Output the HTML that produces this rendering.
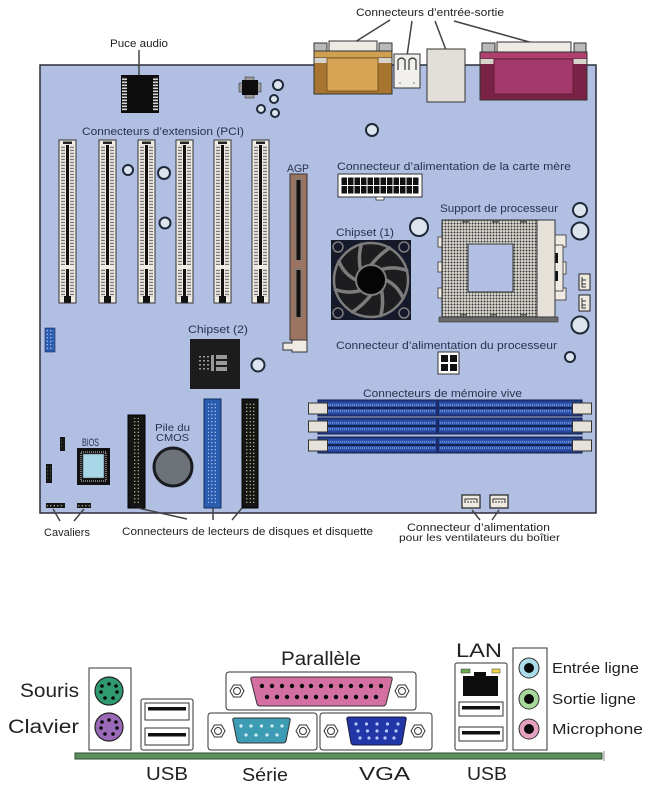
<!DOCTYPE html>
<html><head><meta charset="utf-8"><style>
html,body{margin:0;padding:0;background:#fff;}
svg{display:block;}
</style></head><body>
<svg width="648" height="788" viewBox="0 0 648 788" xmlns="http://www.w3.org/2000/svg" font-family="Liberation Sans, sans-serif">
<defs>
<pattern id="pinp" patternUnits="userSpaceOnUse" width="4" height="3"><rect x="0" y="0.8" width="4" height="1.3" fill="#7a7a7a"/></pattern>
<pattern id="chipp" patternUnits="userSpaceOnUse" width="6" height="3"><rect width="6" height="3" fill="#111"/><rect x="0" y="0.5" width="6" height="1.6" fill="#d8d8d8"/></pattern>
<pattern id="ided" patternUnits="userSpaceOnUse" width="3.5" height="3.5"><circle cx="1.75" cy="1.75" r="0.65" fill="#e6dfa8"/></pattern>
<pattern id="ideb" patternUnits="userSpaceOnUse" width="3.5" height="3.5"><circle cx="1.75" cy="1.75" r="0.65" fill="#cfe0ff"/></pattern>
<pattern id="sockp" patternUnits="userSpaceOnUse" width="3" height="3"><rect width="3" height="3" fill="#dcd9d2"/><circle cx="1.5" cy="1.5" r="0.95" fill="#333"/></pattern>
<pattern id="atxp" patternUnits="userSpaceOnUse" x="341" y="177" width="6.5" height="8.5"><rect x="0.5" y="0.5" width="5.5" height="7.5" fill="#111"/></pattern>
<g id="pci">
<rect x="0" y="0" width="17" height="163" fill="#efebe3" stroke="#333" stroke-width="1"/>
<rect x="2" y="5" width="4" height="152" fill="url(#pinp)"/>
<rect x="11" y="5" width="4" height="152" fill="url(#pinp)"/>
<rect x="7" y="5" width="3" height="152" fill="#111"/>
<rect x="1" y="125" width="15" height="4" fill="#efebe3"/>
<rect x="4" y="1.5" width="9" height="2.5" fill="#222"/>
<rect x="5" y="156" width="7" height="6.5" fill="#111"/>
</g>
<g id="dimm">
<rect x="10" y="0" width="264" height="16" fill="#22408f" stroke="#141c4a" stroke-width="1"/>
<rect x="13" y="2.5" width="258" height="11" fill="#2e55ad"/>
<line x1="16" y1="5" x2="268" y2="5" stroke="#a9bdf0" stroke-width="1" stroke-dasharray="1 1"/>
<line x1="16" y1="11" x2="268" y2="11" stroke="#a9bdf0" stroke-width="1" stroke-dasharray="1 1"/>
<line x1="16" y1="8" x2="268" y2="8" stroke="#0c1230" stroke-width="1.6"/>
<rect x="128" y="1" width="3" height="14" fill="#1a2a6a"/>
<rect x="0.5" y="3" width="19" height="11" fill="#e6e2da" stroke="#333"/>
<rect x="264.5" y="3" width="19" height="11" fill="#e6e2da" stroke="#333"/>
</g>
</defs>

<!-- Board -->
<rect x="40" y="65" width="556" height="448" fill="#b1bfe2" stroke="#2a2d3a" stroke-width="1.5"/>

<!-- top labels and lines -->
<g stroke="#444" stroke-width="1.5" fill="none">
<line x1="390" y1="20" x2="355" y2="42"/>
<line x1="412" y1="21" x2="407" y2="56"/>
<line x1="435" y1="21" x2="446" y2="50"/>
<line x1="454" y1="21" x2="533" y2="43"/>
<line x1="139" y1="50" x2="139" y2="76"/>
</g>
<text x="356" y="16" font-size="11" fill="#222" textLength="148" lengthAdjust="spacingAndGlyphs">Connecteurs d’entrée-sortie</text>
<text x="110" y="47" font-size="11" fill="#222" textLength="58" lengthAdjust="spacingAndGlyphs">Puce audio</text>

<!-- tan connector -->
<rect x="314" y="43" width="13" height="8" fill="#b9b9b9" stroke="#333"/>
<rect x="379" y="43" width="13" height="8" fill="#b9b9b9" stroke="#333"/>
<rect x="329" y="41" width="48" height="10" fill="#eeeae4" stroke="#333"/>
<rect x="314" y="51" width="78" height="43" fill="#a7752f" stroke="#333"/>
<rect x="314" y="51" width="78" height="7" fill="#cf9f52" stroke="#333"/>
<rect x="314.5" y="58" width="13" height="5" fill="#d8d4cc"/>
<rect x="378.5" y="58" width="13" height="5" fill="#d8d4cc"/>
<rect x="327" y="58" width="51" height="33" fill="#d5a455" stroke="#6a4a1a" stroke-width="0.8"/>
<!-- small usb -->
<rect x="394" y="54" width="26" height="34" fill="#f2f0ec" stroke="#333"/>
<path d="M398,70 V60 Q401.5,56 405,60 V70 M409,70 V60 Q412.5,56 416,60 V70" fill="none" stroke="#333" stroke-width="1.2"/>
<circle cx="400" cy="83" r="0.8" fill="#777"/><circle cx="414" cy="83" r="0.8" fill="#777"/>
<!-- grey box -->
<rect x="427" y="49" width="38" height="53" fill="#e2dfd8" stroke="#333"/>
<!-- magenta connector -->
<rect x="482" y="43" width="13" height="9" fill="#b9b9b9" stroke="#333"/>
<rect x="574" y="43" width="12" height="9" fill="#b9b9b9" stroke="#333"/>
<rect x="497" y="42" width="74" height="10" fill="#eeeae4" stroke="#333"/>
<rect x="480" y="52" width="107" height="48" fill="#7a2346" stroke="#333"/>
<rect x="480" y="52" width="107" height="7" fill="#b0406e" stroke="#333"/>
<rect x="480.5" y="59" width="13" height="5" fill="#d8d4cc"/>
<rect x="573.5" y="59" width="13" height="5" fill="#d8d4cc"/>
<rect x="494" y="59" width="79" height="35" fill="#a43a6c" stroke="#5a1530" stroke-width="0.8"/>

<!-- audio chip -->
<rect x="121" y="75" width="38" height="38" fill="#0c0c0c"/>
<rect x="122" y="77" width="5" height="34" fill="url(#chipp)"/>
<rect x="153" y="77" width="5" height="34" fill="url(#chipp)"/>
<!-- small chip -->
<g fill="#9a9a9a" stroke="#222" stroke-width="0.5">
<rect x="239" y="83" width="4" height="9"/><rect x="257" y="83" width="4" height="9"/>
<rect x="245" y="77" width="9" height="4"/><rect x="245" y="94" width="9" height="4"/>
</g>
<rect x="242" y="80" width="16" height="15" fill="#0c0c0c"/>
<!-- rings -->
<g fill="#dde4ee" stroke="#1e2a3a" stroke-width="2">
<circle cx="278" cy="85" r="5"/>
<circle cx="274" cy="99" r="4"/>
<circle cx="261" cy="109" r="4"/>
<circle cx="275" cy="113" r="4"/>
<circle cx="128" cy="170" r="5"/>
<circle cx="164" cy="173" r="6"/>
<circle cx="165" cy="223" r="5.5"/>
<circle cx="372" cy="130" r="6"/>
<circle cx="419" cy="227" r="9"/>
<circle cx="580" cy="210" r="7"/>
<circle cx="580" cy="231" r="8.5"/>
<circle cx="580" cy="325" r="8.5"/>
<circle cx="570" cy="357" r="5"/>
<circle cx="258" cy="365" r="6.5"/>
</g>

<!-- board labels -->
<g font-size="11" fill="#28324e">
<text x="82" y="135" textLength="162" lengthAdjust="spacingAndGlyphs">Connecteurs d’extension (PCI)</text>
<text x="287" y="172" textLength="22" lengthAdjust="spacingAndGlyphs">AGP</text>
<text x="337" y="170" textLength="234" lengthAdjust="spacingAndGlyphs">Connecteur d’alimentation de la carte mère</text>
<text x="336" y="236" textLength="58" lengthAdjust="spacingAndGlyphs">Chipset (1)</text>
<text x="440" y="212" textLength="118" lengthAdjust="spacingAndGlyphs">Support de processeur</text>
<text x="188" y="333" textLength="60" lengthAdjust="spacingAndGlyphs">Chipset (2)</text>
<text x="336" y="349" textLength="221" lengthAdjust="spacingAndGlyphs">Connecteur d’alimentation du processeur</text>
<text x="363" y="397" textLength="159" lengthAdjust="spacingAndGlyphs">Connecteurs de mémoire vive</text>
<text x="82" y="446" textLength="17" lengthAdjust="spacingAndGlyphs">BIOS</text>
<text x="155" y="431" font-size="10" textLength="35" lengthAdjust="spacingAndGlyphs">Pile du</text>
<text x="156" y="441" font-size="10" textLength="33" lengthAdjust="spacingAndGlyphs">CMOS</text>
</g>

<!-- PCI slots -->
<use href="#pci" x="59" y="140"/>
<use href="#pci" x="99" y="140"/>
<use href="#pci" x="138" y="140"/>
<use href="#pci" x="176" y="140"/>
<use href="#pci" x="214" y="140"/>
<use href="#pci" x="252" y="140"/>

<!-- AGP -->
<rect x="290" y="174" width="17" height="166" fill="#9c7462" stroke="#333"/>
<rect x="294" y="178" width="9" height="84" fill="url(#pinp)"/>
<rect x="294" y="268" width="9" height="50" fill="url(#pinp)"/>
<rect x="296.5" y="180" width="4" height="80" fill="#111"/>
<rect x="296.5" y="270" width="4" height="47" fill="#111"/>
<path d="M283,343 H292 V340 H307 V352 H292 V350 H283 Z" fill="#efebe3" stroke="#333"/>

<!-- Chipset 2 -->
<rect x="190" y="339" width="50" height="50" fill="#1c1c1c"/>
<g fill="#9a9a9a">
<rect x="199" y="356" width="2" height="1.5"/><rect x="203" y="356" width="2" height="1.5"/><rect x="207" y="356" width="2" height="1.5"/>
<rect x="199" y="360" width="2" height="1.5"/><rect x="203" y="360" width="2" height="1.5"/><rect x="207" y="360" width="2" height="1.5"/>
<rect x="199" y="364" width="2" height="1.5"/><rect x="203" y="364" width="2" height="1.5"/><rect x="207" y="364" width="2" height="1.5"/>
<rect x="199" y="368" width="2" height="1.5"/><rect x="203" y="368" width="2" height="1.5"/><rect x="207" y="368" width="2" height="1.5"/>
<rect x="211" y="355" width="3" height="16"/>
<rect x="216" y="355" width="11" height="4"/><rect x="216" y="361" width="11" height="4"/><rect x="216" y="367" width="11" height="4"/>
</g>

<!-- blue header left -->
<rect x="45" y="328" width="10" height="24" fill="#2a5cb0" stroke="#1a2a60" stroke-width="0.6"/>
<rect x="46" y="329" width="8" height="22" fill="url(#ideb)"/>

<!-- 24pin -->
<rect x="338" y="174" width="84" height="23" fill="#fff" stroke="#333"/>
<rect x="341" y="177" width="78" height="17" fill="url(#atxp)"/>
<rect x="376" y="197" width="8" height="3" fill="#fff" stroke="#333" stroke-width="0.8"/>

<!-- Fan -->
<rect x="331" y="240" width="80" height="80" fill="#15192a"/>
<circle cx="371" cy="280" r="37" fill="#1d1d1f" stroke="#7c7c7c" stroke-width="2.5"/>
<g stroke="#7c7c7c" stroke-width="3.5" fill="none" stroke-linecap="round">
<path d="M386,280 Q398,286 403,298"/>
<path d="M381.6,290.6 Q384,304 380.6,315.7"/>
<path d="M371,295 Q362,306 352.5,312"/>
<path d="M360.4,290.6 Q348,294 335.3,289.6"/>
<path d="M356,280 Q344,274 339,261.5"/>
<path d="M360.4,269.4 Q358,256 361.4,244.3"/>
<path d="M371,265 Q380,254 389.5,248"/>
<path d="M381.6,269.4 Q394,266 406.7,270.4"/>
</g>
<circle cx="371" cy="280" r="15" fill="#050505" stroke="#7c7c7c" stroke-width="2"/>
<g fill="#15192a" stroke="#7c7c7c" stroke-width="1.5">
<circle cx="338" cy="247" r="5"/><circle cx="404" cy="247" r="5"/>
<circle cx="338" cy="313" r="5"/><circle cx="404" cy="313" r="5"/>
</g>

<!-- Socket -->
<g fill="#efebe3" stroke="#333" stroke-width="0.8">
<rect x="438" y="237" width="5" height="10"/><rect x="438" y="262" width="5" height="10"/><rect x="438" y="288" width="5" height="10"/>
<rect x="555" y="235" width="11" height="12"/><rect x="555" y="262" width="11" height="12"/><rect x="555" y="288" width="11" height="12"/>
<rect x="555" y="245" width="8" height="46"/>
</g>
<rect x="555" y="253" width="3" height="10" fill="#111"/>
<rect x="555" y="271" width="3" height="10" fill="#111"/>
<rect x="442" y="220" width="96" height="97" fill="url(#sockp)" stroke="#333"/>
<rect x="537" y="220" width="18" height="97" fill="#e6e2da" stroke="#333"/>
<rect x="468" y="244" width="45" height="48" fill="#b1bfe2" stroke="#333"/>
<rect x="439" y="317" width="119" height="5" fill="#6a6a6a" stroke="#333" stroke-width="0.6"/>
<g fill="#555">
<rect x="462" y="221" width="7" height="1.5"/><rect x="492" y="221" width="7" height="1.5"/><rect x="520" y="221" width="7" height="1.5"/>
<rect x="460" y="314" width="7" height="1.5"/><rect x="490" y="314" width="7" height="1.5"/><rect x="520" y="314" width="7" height="1.5"/>
</g>
<!-- small fan connectors near socket -->
<g fill="#efebe3" stroke="#222" stroke-width="1">
<rect x="579" y="274" width="11" height="16"/><rect x="579" y="295" width="11" height="16"/>
</g>
<path d="M582,277 V287 H586 M582,280 H586 M582,284 H586" stroke="#333" fill="none"/>
<path d="M582,298 V308 H586 M582,301 H586 M582,305 H586" stroke="#333" fill="none"/>

<!-- 4pin -->
<rect x="438" y="352" width="21" height="22" fill="#fff" stroke="#333"/>
<rect x="441" y="355" width="7" height="7" fill="#111"/><rect x="450" y="355" width="7" height="7" fill="#111"/>
<rect x="441" y="364" width="7" height="7" fill="#111"/><rect x="450" y="364" width="7" height="7" fill="#111"/>

<!-- DIMMs -->
<use href="#dimm" x="308" y="400"/>
<use href="#dimm" x="308" y="418"/>
<use href="#dimm" x="308" y="437"/>

<!-- bottom fan connectors -->
<g fill="#efebe3" stroke="#222" stroke-width="1.2">
<rect x="462" y="495" width="18" height="13"/><rect x="490" y="495" width="18" height="13"/>
</g>
<path d="M465,503 V499 H477 V503 M468,503 V501 M471,503 V501 M474,503 V501" stroke="#333" fill="none"/>
<path d="M493,503 V499 H505 V503 M496,503 V501 M499,503 V501 M502,503 V501" stroke="#333" fill="none"/>

<!-- IDE / floppy connectors -->
<rect x="128" y="415" width="17" height="93" fill="#151515" stroke="#000"/>
<rect x="132" y="418" width="9" height="87" fill="url(#ided)"/>
<rect x="204" y="399" width="17" height="109" fill="#2a5cb0" stroke="#12305e"/>
<rect x="208" y="402" width="9" height="103" fill="url(#ideb)"/>
<rect x="242" y="399" width="16" height="109" fill="#151515" stroke="#000"/>
<rect x="245.5" y="402" width="9" height="103" fill="url(#ided)"/>

<!-- battery -->
<circle cx="173" cy="467" r="19" fill="#6e737a" stroke="#1a1c22" stroke-width="3"/>

<!-- BIOS -->
<rect x="77" y="448" width="33" height="37" fill="#111"/>
<rect x="81" y="452" width="25" height="29" fill="none" stroke="#ddd" stroke-width="1" stroke-dasharray="1 1"/>
<rect x="83" y="454" width="21" height="24" fill="#a8d8e8" stroke="#555" stroke-width="0.6"/>

<!-- small headers -->
<rect x="60" y="437" width="5" height="14" fill="#151515"/>
<rect x="61.5" y="439" width="2" height="10" fill="url(#ided)"/>
<rect x="46" y="464" width="6" height="19" fill="#151515"/>
<rect x="47.5" y="466" width="3" height="15" fill="url(#ided)"/>
<rect x="46" y="503" width="19" height="5" fill="#151515"/>
<rect x="47" y="504" width="17" height="3" fill="url(#ided)"/>
<rect x="77" y="503" width="14" height="5" fill="#151515"/>
<rect x="78" y="504" width="12" height="3" fill="url(#ided)"/>

<!-- bottom label lines -->
<g stroke="#444" stroke-width="1.5" fill="none">
<line x1="60" y1="521" x2="53" y2="509"/>
<line x1="74" y1="521" x2="84" y2="509"/>
<line x1="138" y1="508" x2="187" y2="519"/>
<line x1="213" y1="508" x2="213" y2="520"/>
<line x1="242" y1="508" x2="232" y2="520"/>
<line x1="472" y1="510" x2="480" y2="520"/>
<line x1="499" y1="510" x2="492" y2="520"/>
</g>
<g font-size="11" fill="#222">
<text x="44" y="536" textLength="46" lengthAdjust="spacingAndGlyphs">Cavaliers</text>
<text x="122" y="535" textLength="251" lengthAdjust="spacingAndGlyphs">Connecteurs de lecteurs de disques et disquette</text>
<text x="407" y="531" textLength="143" lengthAdjust="spacingAndGlyphs">Connecteur d’alimentation</text>
<text x="399" y="541" font-size="10" textLength="161" lengthAdjust="spacingAndGlyphs">pour les ventilateurs du boîtier</text>
</g>

<!-- ===== Bottom I/O panel ===== -->
<rect x="75" y="753" width="527" height="6" fill="#5f8f5f" stroke="#2e4e2e" stroke-width="1"/>
<line x1="604" y1="751" x2="604" y2="761" stroke="#888" stroke-width="1"/>

<!-- PS/2 -->
<rect x="89" y="668" width="42" height="82" fill="#fff" stroke="#333"/>
<circle cx="109" cy="691" r="14" fill="#2f9a70" stroke="#222" stroke-width="1.2"/>
<circle cx="109" cy="727" r="14" fill="#9a6ab8" stroke="#222" stroke-width="1.2"/>
<g fill="#0a0a0a">
<circle cx="102" cy="686" r="1.8"/><circle cx="109" cy="684" r="1.8"/><circle cx="116" cy="686" r="1.8"/>
<circle cx="101" cy="692" r="1.8"/><circle cx="117" cy="692" r="1.8"/>
<circle cx="105" cy="698" r="1.8"/><circle cx="113" cy="698" r="1.8"/>
<circle cx="102" cy="722" r="1.8"/><circle cx="109" cy="720" r="1.8"/><circle cx="116" cy="722" r="1.8"/>
<circle cx="101" cy="728" r="1.8"/><circle cx="117" cy="728" r="1.8"/>
<circle cx="105" cy="734" r="1.8"/><circle cx="113" cy="734" r="1.8"/>
</g>

<!-- USB left -->
<rect x="141" y="699" width="52" height="51" rx="2" fill="#fff" stroke="#333"/>
<rect x="145" y="703" width="44" height="17" fill="#fff" stroke="#333"/>
<rect x="148" y="707" width="38" height="3.5" fill="#111"/>
<rect x="145" y="728" width="44" height="17" fill="#fff" stroke="#333"/>
<rect x="148" y="733" width="38" height="3.5" fill="#111"/>

<!-- Parallel -->
<rect x="226" y="672" width="190" height="38" rx="3" fill="#fff" stroke="#333"/>
<path d="M253,677 H390 Q393,677 392,680 L386,704 Q385,706 383,706 H260 Q258,706 257,704 L251,680 Q250,677 253,677 Z" fill="#d46fa2" stroke="#333"/>
<g fill="#0a0a0a">
<circle cx="262" cy="686" r="2.2"/><circle cx="272" cy="686" r="2.2"/><circle cx="282" cy="686" r="2.2"/><circle cx="292" cy="686" r="2.2"/><circle cx="302" cy="686" r="2.2"/><circle cx="311" cy="686" r="2.2"/><circle cx="321" cy="686" r="2.2"/><circle cx="331" cy="686" r="2.2"/><circle cx="341" cy="686" r="2.2"/><circle cx="351" cy="686" r="2.2"/><circle cx="361" cy="686" r="2.2"/><circle cx="371" cy="686" r="2.2"/><circle cx="381" cy="686" r="2.2"/>
<circle cx="267" cy="697" r="2.2"/><circle cx="277" cy="697" r="2.2"/><circle cx="287" cy="697" r="2.2"/><circle cx="297" cy="697" r="2.2"/><circle cx="306" cy="697" r="2.2"/><circle cx="316" cy="697" r="2.2"/><circle cx="326" cy="697" r="2.2"/><circle cx="336" cy="697" r="2.2"/><circle cx="346" cy="697" r="2.2"/><circle cx="356" cy="697" r="2.2"/><circle cx="366" cy="697" r="2.2"/><circle cx="376" cy="697" r="2.2"/>
</g>

<!-- Serial -->
<rect x="208" y="713" width="109" height="37" rx="3" fill="#fff" stroke="#333"/>
<path d="M235,718 H288 Q291,718 290,721 L286,741 Q285,743 283,743 H240 Q238,743 237,741 L233,721 Q232,718 235,718 Z" fill="#3b9cb3" stroke="#333"/>
<g fill="#d4edf2">
<circle cx="241" cy="726" r="1.6"/><circle cx="251" cy="726" r="1.6"/><circle cx="261.5" cy="726" r="1.6"/><circle cx="272" cy="726" r="1.6"/><circle cx="282" cy="726" r="1.6"/>
<circle cx="246" cy="735" r="1.6"/><circle cx="256" cy="735" r="1.6"/><circle cx="267" cy="735" r="1.6"/><circle cx="277" cy="735" r="1.6"/>
</g>

<!-- VGA -->
<rect x="320" y="713" width="112" height="37" rx="3" fill="#fff" stroke="#333"/>
<path d="M349,717 H404 Q407,717 406,720 L402,743 Q401,745 399,745 H354 Q352,745 351,743 L347,720 Q346,717 349,717 Z" fill="#2236a8" stroke="#1a1a3a"/>
<g fill="#b8c4ff">
<circle cx="356" cy="724" r="1.6"/><circle cx="366.5" cy="724" r="1.6"/><circle cx="377" cy="724" r="1.6"/><circle cx="387.5" cy="724" r="1.6"/><circle cx="398" cy="724" r="1.6"/>
<circle cx="358" cy="731" r="1.6"/><circle cx="367.5" cy="731" r="1.6"/><circle cx="377" cy="731" r="1.6"/><circle cx="386.5" cy="731" r="1.6"/><circle cx="396" cy="731" r="1.6"/>
<circle cx="360" cy="738" r="1.6"/><circle cx="369" cy="738" r="1.6"/><circle cx="377" cy="738" r="1.6"/><circle cx="385" cy="738" r="1.6"/><circle cx="394" cy="738" r="1.6"/>
</g>

<!-- hex screws -->
<g fill="#fff" stroke="#333" stroke-width="1">
<polygon points="230,691 233.5,685 240.5,685 244,691 240.5,697 233.5,697"/><circle cx="237" cy="691" r="3.5"/>
<polygon points="395,691 398.5,685 405.5,685 409,691 405.5,697 398.5,697"/><circle cx="402" cy="691" r="3.5"/>
<polygon points="211,731 214.5,725 221.5,725 225,731 221.5,737 214.5,737"/><circle cx="218" cy="731" r="3.5"/>
<polygon points="296,731 299.5,725 306.5,725 310,731 306.5,737 299.5,737"/><circle cx="303" cy="731" r="3.5"/>
<polygon points="324,731 327.5,725 334.5,725 338,731 334.5,737 327.5,737"/><circle cx="331" cy="731" r="3.5"/>
<polygon points="411,731 414.5,725 421.5,725 425,731 421.5,737 414.5,737"/><circle cx="418" cy="731" r="3.5"/>
</g>

<!-- LAN + USB -->
<rect x="455" y="663" width="52" height="87" rx="2" fill="#fff" stroke="#333"/>
<rect x="461" y="669" width="9" height="4" fill="#6aa84f" stroke="#333" stroke-width="0.5"/>
<rect x="492" y="669" width="8" height="4" fill="#e8d84a" stroke="#333" stroke-width="0.5"/>
<path d="M463,676 H474 V672 H486 V676 H498 V696 H463 Z" fill="#0c0c0c"/>
<rect x="459" y="702" width="44" height="14" fill="#fff" stroke="#333"/>
<rect x="462" y="706" width="38" height="3.5" fill="#111"/>
<rect x="459" y="727" width="44" height="14" fill="#fff" stroke="#333"/>
<rect x="462" y="731" width="38" height="3.5" fill="#111"/>

<!-- Audio -->
<rect x="513" y="648" width="34" height="102" fill="#fff" stroke="#333"/>
<circle cx="529" cy="668" r="10" fill="#a9dbe9" stroke="#333"/>
<circle cx="529" cy="668" r="5" fill="#0a0a0a"/>
<circle cx="529" cy="699" r="10" fill="#a7d99a" stroke="#333"/>
<circle cx="529" cy="699" r="5" fill="#0a0a0a"/>
<circle cx="529" cy="729" r="10" fill="#e6a0c0" stroke="#333"/>
<circle cx="529" cy="729" r="5" fill="#0a0a0a"/>

<!-- bottom labels -->
<g fill="#222">
<text x="281" y="665" font-size="19" textLength="80" lengthAdjust="spacingAndGlyphs">Parallèle</text>
<text x="20" y="697" font-size="19" textLength="59" lengthAdjust="spacingAndGlyphs">Souris</text>
<text x="8" y="733" font-size="19" textLength="71" lengthAdjust="spacingAndGlyphs">Clavier</text>
<text x="146" y="780" font-size="18" textLength="42" lengthAdjust="spacingAndGlyphs">USB</text>
<text x="242" y="781" font-size="18" textLength="46" lengthAdjust="spacingAndGlyphs">Série</text>
<text x="359" y="780" font-size="18" textLength="51" lengthAdjust="spacingAndGlyphs">VGA</text>
<text x="467" y="780" font-size="18" textLength="40" lengthAdjust="spacingAndGlyphs">USB</text>
<text x="456" y="657" font-size="19" textLength="46" lengthAdjust="spacingAndGlyphs">LAN</text>
<text x="552" y="673" font-size="15" textLength="87" lengthAdjust="spacingAndGlyphs">Entrée ligne</text>
<text x="552" y="704" font-size="15" textLength="84" lengthAdjust="spacingAndGlyphs">Sortie ligne</text>
<text x="552" y="734" font-size="15" textLength="91" lengthAdjust="spacingAndGlyphs">Microphone</text>
</g>
</svg>
</body></html>
